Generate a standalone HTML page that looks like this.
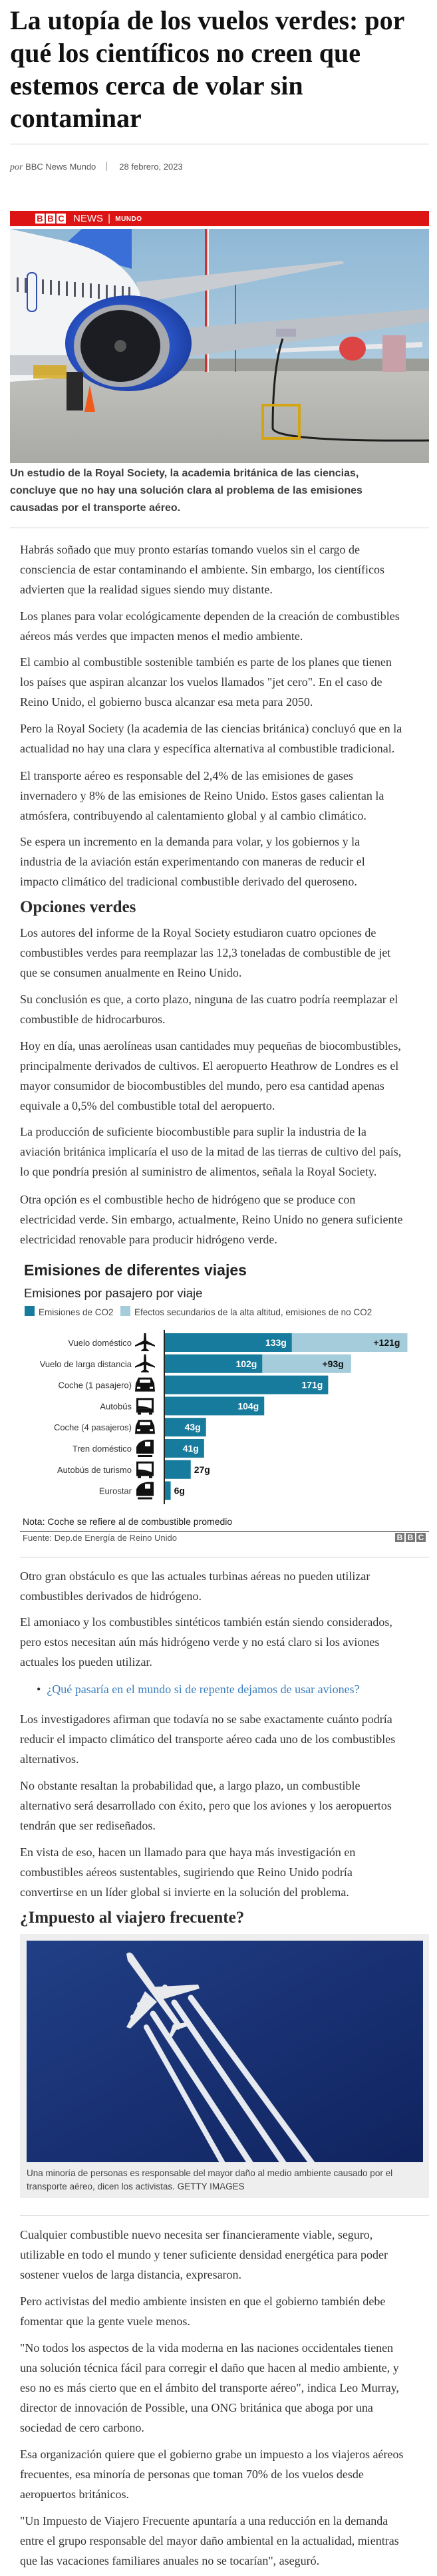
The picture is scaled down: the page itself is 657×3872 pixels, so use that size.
<!DOCTYPE html>
<html lang="es">
<head>
<meta charset="utf-8">
<title>La utopía de los vuelos verdes</title>
<style>
html,body{margin:0;padding:0;background:#fff;}
#page{position:relative;width:657px;height:3872px;overflow:hidden;background:#fff;}
.abs{position:absolute;}
.title{left:15px;top:6px;font:bold 40px/49px "Liberation Serif",serif;color:#111;white-space:nowrap;margin:0;}
.p{position:absolute;left:30px;margin:0;font:18px/30px "Liberation Serif",serif;color:#333;white-space:nowrap;}
.h2{position:absolute;left:30px;margin:0;font:bold 25px/30px "Liberation Serif",serif;color:#2b2b2b;white-space:nowrap;}
.rule{position:absolute;height:1px;background:#d2d2d2;}
.cap{left:15px;top:699px;font:bold 16px/26px "Liberation Sans",sans-serif;color:#3d3d3d;white-space:nowrap;margin:0;}
a{color:#3a7fc1;text-decoration:none;}
</style>
</head>
<body>
<div id="page">

<h1 class="abs title">La utopía de los vuelos verdes: por<br>qué los científicos no creen que<br>estemos cerca de volar sin<br>contaminar</h1>
<div class="rule" style="left:15px;top:216px;width:630px;"></div>
<div class="abs" style="left:15px;top:243px;font:13px/16px 'Liberation Sans',sans-serif;color:#555;white-space:nowrap;"><i style="font-family:'Liberation Serif',serif;font-size:14px;">por</i> <a style="color:#555" href="#">BBC News Mundo</a><span style="display:inline-block;width:1px;height:14px;background:#999;margin:0 18px 0 16px;vertical-align:-2px;"></span>28 febrero, 2023</div>

<!-- BBC banner -->
<div class="abs" style="left:15px;top:317px;width:630px;height:23px;background:#dc1414;">
  <div class="abs" style="left:38px;top:4px;font:bold 13px/15px 'Liberation Sans',sans-serif;color:#dc1414;">
    <span style="display:inline-block;width:14px;background:#fff;text-align:center;margin-right:2px;">B</span><span style="display:inline-block;width:14px;background:#fff;text-align:center;margin-right:2px;">B</span><span style="display:inline-block;width:14px;background:#fff;text-align:center;">C</span>
  </div>
  <div class="abs" style="left:95px;top:3px;font:15px/17px 'Liberation Sans',sans-serif;color:#fff;white-space:nowrap;">NEWS <span style="margin:0 3px">|</span> <span style="font-size:10px;font-weight:bold;letter-spacing:0.5px;vertical-align:1px;">MUNDO</span></div>
</div>

<!-- Hero photo -->
<svg class="abs" style="left:15px;top:344px;" width="630" height="352" viewBox="0 0 630 352">
  <defs>
    <linearGradient id="sky" x1="0" y1="0" x2="0" y2="1"><stop offset="0" stop-color="#8fb8d6"/><stop offset="1" stop-color="#c4d8e4"/></linearGradient>
    <linearGradient id="tar" x1="0" y1="0" x2="0" y2="1"><stop offset="0" stop-color="#c0c0bc"/><stop offset="1" stop-color="#a9a9a6"/></linearGradient>
    <radialGradient id="eng" cx="0.45" cy="0.5" r="0.6"><stop offset="0.6" stop-color="#2a55c8"/><stop offset="1" stop-color="#1a3a9a"/></radialGradient>
  </defs>
  <rect width="630" height="352" fill="url(#sky)"/>
  <rect y="195" width="630" height="20" fill="#8f7f6a" opacity="0.6"/>
  <rect y="214" width="630" height="138" fill="url(#tar)"/>
  <rect x="293" y="0" width="3" height="215" fill="#c33"/>
  <rect x="297" y="0" width="2" height="215" fill="#eee"/>
  <rect x="338" y="70" width="2" height="145" fill="#b44"/>
  <!-- background planes -->
  <path d="M400 180 L620 170 L620 178 L400 186Z" fill="#e8e8ea"/>
  <ellipse cx="515" cy="180" rx="20" ry="18" fill="#d44"/>
  <rect x="560" y="160" width="35" height="55" fill="#c8a0a8"/>
  <!-- tail -->
  <path d="M75 30 L108 0 L183 0 L183 60Z" fill="#3a6fd8"/>
  <!-- upper wing -->
  <path d="M190 80 L500 48 L502 52 L196 112Z" fill="#c9cdd2"/>
  <!-- fuselage -->
  <path d="M0 0 L90 20 Q170 40 195 95 L205 160 L200 215 L0 230Z" fill="#f3f4f6"/>
  <rect x="0" y="190" width="205" height="30" fill="#c8ccd0"/>
  <g fill="#556">
    <rect x="10" y="73" width="3" height="22"/><rect x="22" y="74" width="3" height="22"/><rect x="48" y="76" width="3" height="22"/><rect x="60" y="77" width="3" height="22"/><rect x="72" y="78" width="3" height="22"/><rect x="84" y="79" width="3" height="22"/><rect x="96" y="80" width="3" height="22"/><rect x="108" y="81" width="3" height="22"/><rect x="120" y="82" width="3" height="22"/><rect x="132" y="83" width="3" height="22"/><rect x="144" y="84" width="3" height="21"/><rect x="156" y="85" width="3" height="21"/><rect x="168" y="86" width="3" height="20"/><rect x="178" y="87" width="3" height="19"/>
  </g>
  <rect x="26" y="66" width="14" height="58" rx="6" fill="none" stroke="#3050b0" stroke-width="2"/>
  <!-- lower wing -->
  <path d="M190 155 L630 120 L630 140 L250 195 L215 200Z" fill="#bcc1c7"/>
  <rect x="400" y="150" width="30" height="12" fill="#aab"/>
  <!-- engine -->
  <ellipse cx="178" cy="172" rx="95" ry="72" fill="url(#eng)"/>
  <ellipse cx="168" cy="176" rx="72" ry="62" fill="#a6a9ae"/>
  <ellipse cx="166" cy="176" rx="60" ry="54" fill="#1b1d22"/>
  <circle cx="166" cy="176" r="9" fill="#555"/>
  <!-- landing gear, cone, hose, stand -->
  <rect x="85" y="215" width="25" height="58" fill="#2a2a2a"/>
  <path d="M120 235 L112 275 L128 275Z" fill="#f05a1a"/>
  <path d="M410 165 Q395 210 395 300 Q400 320 630 318" fill="none" stroke="#1e1e1e" stroke-width="3"/>
  <rect x="380" y="265" width="55" height="50" fill="none" stroke="#d4a413" stroke-width="4"/>
  <rect x="35" y="205" width="50" height="20" fill="#d4a413" opacity="0.8"/>
</svg>

<p class="abs cap">Un estudio de la Royal Society, la academia británica de las ciencias,<br>concluye que no hay una solución clara al problema de las emisiones<br>causadas por el transporte aéreo.</p>
<div class="rule" style="left:15px;top:793px;width:630px;"></div>

<p class="p" style="top:811px">Habrás soñado que muy pronto estarías tomando vuelos sin el cargo de<br>consciencia de estar contaminando el ambiente. Sin embargo, los científicos<br>advierten que la realidad sigues siendo muy distante.</p>
<p class="p" style="top:911px">Los planes para volar ecológicamente dependen de la creación de combustibles<br>aéreos más verdes que impacten menos el medio ambiente.</p>
<p class="p" style="top:980px">El cambio al combustible sostenible también es parte de los planes que tienen<br>los países que aspiran alcanzar los vuelos llamados "jet cero". En el caso de<br>Reino Unido, el gobierno busca alcanzar esa meta para 2050.</p>
<p class="p" style="top:1080px">Pero la Royal Society (la academia de las ciencias británica) concluyó que en la<br>actualidad no hay una clara y específica alternativa al combustible tradicional.</p>
<p class="p" style="top:1151px">El transporte aéreo es responsable del 2,4% de las emisiones de gases<br>invernadero y 8% de las emisiones de Reino Unido. Estos gases calientan la<br>atmósfera, contribuyendo al calentamiento global y al cambio climático.</p>
<p class="p" style="top:1250px">Se espera un incremento en la demanda para volar, y los gobiernos y la<br>industria de la aviación están experimentando con maneras de reducir el<br>impacto climático del tradicional combustible derivado del queroseno.</p>
<h2 class="h2" style="top:1349px">Opciones verdes</h2>
<p class="p" style="top:1387px">Los autores del informe de la Royal Society estudiaron cuatro opciones de<br>combustibles verdes para reemplazar las 12,3 toneladas de combustible de jet<br>que se consumen anualmente en Reino Unido.</p>
<p class="p" style="top:1487px">Su conclusión es que, a corto plazo, ninguna de las cuatro podría reemplazar el<br>combustible de hidrocarburos.</p>
<p class="p" style="top:1557px">Hoy en día, unas aerolíneas usan cantidades muy pequeñas de biocombustibles,<br>principalmente derivados de cultivos. El aeropuerto Heathrow de Londres es el<br>mayor consumidor de biocombustibles del mundo, pero esa cantidad apenas<br>equivale a 0,5% del combustible total del aeropuerto.</p>
<p class="p" style="top:1686px">La producción de suficiente biocombustible para suplir la industria de la<br>aviación británica implicaría el uso de la mitad de las tierras de cultivo del país,<br>lo que pondría presión al suministro de alimentos, señala la Royal Society.</p>
<p class="p" style="top:1788px">Otra opción es el combustible hecho de hidrógeno que se produce con<br>electricidad verde. Sin embargo, actualmente, Reino Unido no genera suficiente<br>electricidad renovable para producir hidrógeno verde.</p>

<!-- Chart -->
<svg id="chart" class="abs" style="left:0;top:1880px;" width="657" height="450" viewBox="0 1880 657 450">
  <text x="36" y="1917" font-family="Liberation Sans, sans-serif" font-weight="bold" font-size="23" fill="#222">Emisiones de diferentes viajes</text>
  <text x="36" y="1950" font-family="Liberation Sans, sans-serif" font-size="18.5" fill="#222">Emisiones por pasajero por viaje</text>
  <g>
    <rect x="37" y="1963" width="15" height="15" fill="#167b9c"/>
    <text x="58" y="1977" font-family="Liberation Sans, sans-serif" font-size="13.5" fill="#444">Emisiones de CO2</text>
    <rect x="181" y="1963" width="15" height="15" fill="#a4ccda"/>
    <text x="202" y="1977" font-family="Liberation Sans, sans-serif" font-size="13.5" fill="#444">Efectos secundarios de la alta altitud, emisiones de no CO2</text>
  </g>
  <g id="bars"></g>
  <rect x="246" y="1999" width="2" height="262" fill="#222"/>
  <text x="34" y="2292" font-family="Liberation Sans, sans-serif" font-size="14" fill="#222">Nota: Coche se refiere al de combustible promedio</text>
  <rect x="30" y="2301" width="615" height="2" fill="#888"/>
  <text x="34" y="2316" font-family="Liberation Sans, sans-serif" font-size="13" fill="#555">Fuente: Dep.de Energía de Reino Unido</text>
  <g font-family="Liberation Sans, sans-serif" font-weight="bold" font-size="12" fill="#fff" text-anchor="middle">
    <rect x="594" y="2304" width="14" height="14" fill="#777"/><text x="601" y="2315">B</text>
    <rect x="610" y="2304" width="14" height="14" fill="#777"/><text x="617" y="2315">B</text>
    <rect x="626" y="2304" width="14" height="14" fill="#777"/><text x="633" y="2315">C</text>
  </g>
</svg>
<script>
const categories = ["Vuelo doméstico","Vuelo de larga distancia","Coche (1 pasajero)","Autobús","Coche (4 pasajeros)","Tren doméstico","Autobús de turismo","Eurostar"];
const co2Values = [133,102,171,104,43,41,27,6];
const nonCo2Values = [121,93,0,0,0,0,0,0];
const icons = ["plane","plane","car","bus","car","train","bus","train"];
(function(){
  const NS = "http://www.w3.org/2000/svg";
  const g = document.getElementById("bars");
  const x0 = 248, pxPerG = 1.435;
  const xScale = v => x0 + v * pxPerG;
  const rowTop = i => 2004 + i * 31.8;
  const barH = 28;
  function mk(tag, attrs){ const e = document.createElementNS(NS, tag); for (const k in attrs) e.setAttribute(k, attrs[k]); return e; }
  function icon(type, cx, cy){
    const grp = mk("g", {transform: "translate(" + cx + "," + cy + ")", fill: "#111"});
    if (type === "plane") {
      grp.appendChild(mk("path", {d: "M-1.5 -14 L1.5 -14 L2 -3 L15 4 L15 6 L2 2 L2 9 L6 12 L6 13 L-6 13 L-6 12 L-2 9 L-2 2 L-15 6 L-15 4 L-2 -3Z"}));
    } else if (type === "car") {
      grp.appendChild(mk("path", {d: "M-14 -2 L-10 -11 L10 -11 L14 -2 L15 10 L-15 10Z"}));
      grp.appendChild(mk("rect", {x: -8, y: -8, width: 16, height: 5, fill: "#fff"}));
      grp.appendChild(mk("rect", {x: -12, y: 3, width: 5, height: 3, fill: "#fff"}));
      grp.appendChild(mk("rect", {x: 7, y: 3, width: 5, height: 3, fill: "#fff"}));
    } else if (type === "bus") {
      grp.appendChild(mk("path", {d: "M-13 -12 L13 -12 L13 10 L-13 10Z M-10 -9 L-10 4 L10 4 L10 -9Z", "fill-rule": "evenodd"}));
      grp.appendChild(mk("path", {d: "M-10 0 Q0 0 10 4 L-10 4Z"}));
      grp.appendChild(mk("rect", {x: -11, y: 10, width: 5, height: 3}));
      grp.appendChild(mk("rect", {x: 6, y: 10, width: 5, height: 3}));
    } else {
      grp.appendChild(mk("path", {d: "M-13 8 L-13 -2 Q-9 -12 4 -13 L13 -13 L13 8Z"}));
      grp.appendChild(mk("rect", {x: 0, y: -10, width: 8, height: 7, fill: "#fff"}));
      grp.appendChild(mk("rect", {x: -11, y: 10, width: 22, height: 3}));
    }
    return grp;
  }
  categories.forEach((cat, i) => {
    const y = rowTop(i), cy = y + barH / 2;
    const lbl = mk("text", {x: 198, y: cy + 5, "text-anchor": "end", "font-family": "Liberation Sans, sans-serif", "font-size": "13", fill: "#333"});
    lbl.textContent = cat;
    
    
    g.appendChild(lbl);
    const ic = icon(icons[i], 218, cy);
    
    
    g.appendChild(ic);
    const wC = xScale(co2Values[i]) - x0;
    const r1 = mk("rect", {x: x0, y: y, width: wC, height: barH, fill: "#167b9c"});
    
    
    g.appendChild(r1);
    if (nonCo2Values[i] > 0) {
      const xe = xScale(co2Values[i] + nonCo2Values[i]);
      const r2 = mk("rect", {x: xScale(co2Values[i]), y: y, width: xe - xScale(co2Values[i]), height: barH, fill: "#a4ccda"});
      
      
      g.appendChild(r2);
      const t2 = mk("text", {x: xe - 11, y: cy + 5, "text-anchor": "end", "font-family": "Liberation Sans, sans-serif", "font-weight": "bold", "font-size": "14", fill: "#111"});
      t2.textContent = "+" + nonCo2Values[i] + "g";
      
      
      g.appendChild(t2);
    }
    const inside = wC > 40;
    const t1 = mk("text", {x: inside ? xScale(co2Values[i]) - 8 : xScale(co2Values[i]) + 5, y: cy + 5, "text-anchor": inside ? "end" : "start", "font-family": "Liberation Sans, sans-serif", "font-weight": "bold", "font-size": "14", fill: inside ? "#fff" : "#111"});
    t1.textContent = co2Values[i] + "g";
    
    
    g.appendChild(t1);
  });
})();
</script>

<div class="rule" style="left:30px;top:2340px;width:615px;"></div>
<p class="p" style="top:2354px">Otro gran obstáculo es que las actuales turbinas aéreas no pueden utilizar<br>combustibles derivados de hidrógeno.</p>
<p class="p" style="top:2423px">El amoniaco y los combustibles sintéticos también están siendo considerados,<br>pero estos necesitan aún más hidrógeno verde y no está claro si los aviones<br>actuales los pueden utilizar.</p>
<div class="abs" style="left:55px;top:2524px;font:18px/30px 'Liberation Serif',serif;white-space:nowrap;"><span style="color:#333;margin-right:9px;">•</span><a href="#">¿Qué pasaría en el mundo si de repente dejamos de usar aviones?</a></div>
<p class="p" style="top:2569px">Los investigadores afirman que todavía no se sabe exactamente cuánto podría<br>reducir el impacto climático del transporte aéreo cada uno de los combustibles<br>alternativos.</p>
<p class="p" style="top:2669px">No obstante resaltan la probabilidad que, a largo plazo, un combustible<br>alternativo será desarrollado con éxito, pero que los aviones y los aeropuertos<br>tendrán que ser rediseñados.</p>
<p class="p" style="top:2769px">En vista de eso, hacen un llamado para que haya más investigación en<br>combustibles aéreos sustentables, sugiriendo que Reino Unido podría<br>convertirse en un líder global si invierte en la solución del problema.</p>
<h2 class="h2" style="top:2868px">¿Impuesto al viajero frecuente?</h2>

<div class="abs" style="left:30px;top:2907px;width:615px;height:397px;background:#eeeeee;">
  <svg class="abs" style="left:10px;top:10px;" width="596" height="333" viewBox="0 0 596 333">
    <defs><linearGradient id="navy" x1="0" y1="0" x2="1" y2="1"><stop offset="0" stop-color="#213f86"/><stop offset="1" stop-color="#10235f"/></linearGradient></defs>
    <rect width="596" height="333" fill="url(#navy)"/>
    <g stroke="#f2f4f8" stroke-linecap="round" fill="none" opacity="0.95">
      <line x1="180" y1="130" x2="298" y2="340" stroke-width="8"/>
      <line x1="190" y1="110" x2="340" y2="340" stroke-width="9"/>
      <line x1="222" y1="93" x2="390" y2="340" stroke-width="9"/>
      <line x1="247" y1="86" x2="433" y2="340" stroke-width="9"/>
    </g>
    <g fill="#e8eaee">
      <path d="M150 20 Q156 14 162 24 L235 130 L228 134 L152 30Z"/>
      <path d="M182 70 L258 66 L260 72 L198 90Z"/>
      <path d="M178 76 L150 130 L156 132 L196 92Z"/>
      <path d="M220 126 L246 122 L244 128 L225 134 L218 146 L214 144Z"/>
      <circle cx="208" cy="70" r="4"/><circle cx="230" cy="72" r="4"/><circle cx="170" cy="96" r="4"/><circle cx="160" cy="115" r="4"/>
    </g>
  </svg>
  <div class="abs" style="left:10px;top:350px;font:13.5px/20px 'Liberation Sans',sans-serif;color:#444;white-space:nowrap;">Una minoría de personas es responsable del mayor daño al medio ambiente causado por el<br>transporte aéreo, dicen los activistas. GETTY IMAGES</div>
</div>
<div class="rule" style="left:30px;top:3330px;width:615px;"></div>

<p class="p" style="top:3344px">Cualquier combustible nuevo necesita ser financieramente viable, seguro,<br>utilizable en todo el mundo y tener suficiente densidad energética para poder<br>sostener vuelos de larga distancia, expresaron.</p>
<p class="p" style="top:3444px">Pero activistas del medio ambiente insisten en que el gobierno también debe<br>fomentar que la gente vuele menos.</p>
<p class="p" style="top:3514px">"No todos los aspectos de la vida moderna en las naciones occidentales tienen<br>una solución técnica fácil para corregir el daño que hacen al medio ambiente, y<br>eso no es más cierto que en el ámbito del transporte aéreo", indica Leo Murray,<br>director de innovación de Possible, una ONG británica que aboga por una<br>sociedad de cero carbono.</p>
<p class="p" style="top:3674px">Esa organización quiere que el gobierno grabe un impuesto a los viajeros aéreos<br>frecuentes, esa minoría de personas que toman 70% de los vuelos desde<br>aeropuertos británicos.</p>
<p class="p" style="top:3774px">"Un Impuesto de Viajero Frecuente apuntaría a una reducción en la demanda<br>entre el grupo responsable del mayor daño ambiental en la actualidad, mientras<br>que las vacaciones familiares anuales no se tocarían", aseguró.</p>

</div>
</body>
</html>
